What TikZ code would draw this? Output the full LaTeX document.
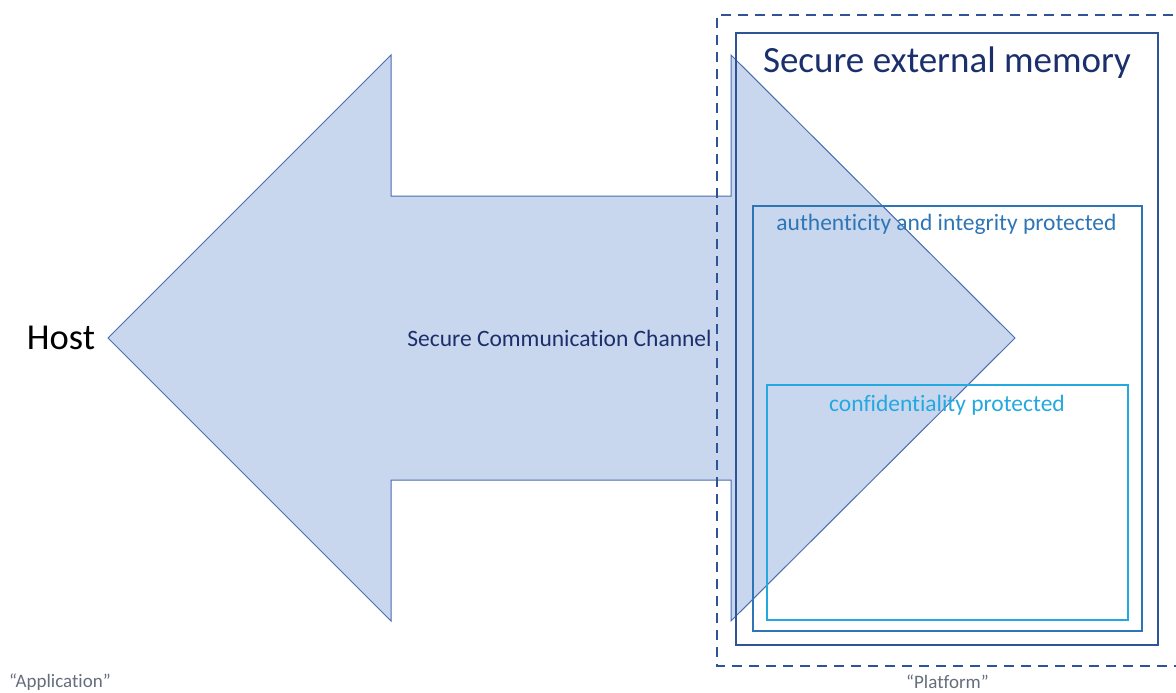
\documentclass[tikz,border=0pt]{standalone}
\usepackage{fontspec}
\setmainfont{Carlito}[Ligatures=NoCommon]
\definecolor{arrowfill}{HTML}{C9D7EE}
\definecolor{arrowline}{HTML}{4A6DB0}
\definecolor{navy}{HTML}{2F5496}
\definecolor{titlecol}{HTML}{1A2F6B}
\definecolor{authcol}{HTML}{2E75B6}
\definecolor{confcol}{HTML}{23A8E0}
\definecolor{greytext}{HTML}{646E7C}
\tikzset{
  boxline/.style={line width=2pt},
  lbl/.style={inner sep=0pt, anchor=center},
}
\begin{document}
\begin{tikzpicture}[x=1pt,y=-1pt]
\useasboundingbox (0,0) rectangle (1176,693);
% double arrow
\draw[fill=arrowfill, draw=arrowline, line width=1pt, line join=miter]
  (108,338) -- (391,55) -- (391,196) -- (731,196) -- (731,55) -- (1015,338)
  -- (731,621) -- (731,480) -- (391,480) -- (391,621) -- cycle;
% boxes
\draw[navy, line width=2.5pt, dash pattern=on 10pt off 7pt] (1190,15) -- (717,15) -- (717,666) -- (1190,666);
\node[draw=navy, boxline, minimum width=422pt, minimum height=612pt, inner sep=0pt] (mem) at (947,339) {};
\node[draw=authcol, boxline, minimum width=389pt, minimum height=425pt, inner sep=0pt] (auth) at (947.5,418.5) {};
\node[draw=confcol, boxline, minimum width=361pt, minimum height=235pt, inner sep=0pt] (conf) at (947.5,502.5) {};
% texts
\node[lbl, text=titlecol, font=\fontsize{37}{40}\selectfont] (memt) at (947,63) {Secure external memory};
\node[lbl, text=authcol, font=\fontsize{23.5}{26}\selectfont] (autht) at (946.5,224) {authenticity and integrity protected};
\node[lbl, text=confcol, font=\fontsize{23.5}{26}\selectfont] (conft) at (947,405) {confidentiality protected};
\node[lbl, text=titlecol, font=\fontsize{23.5}{26}\selectfont] (chan) at (559.5,338) {Secure Communication Channel};
\node[lbl, text=black, font=\fontsize{36.5}{40}\selectfont] (host) at (61,338) {Host};
\node[lbl, text=greytext, font=\fontsize{19}{22}\selectfont] (app) at (60,682) {“Application”};
\node[lbl, text=greytext, font=\fontsize{19}{22}\selectfont] (plat) at (947.5,682) {“Platform”};
\end{tikzpicture}
\end{document}
